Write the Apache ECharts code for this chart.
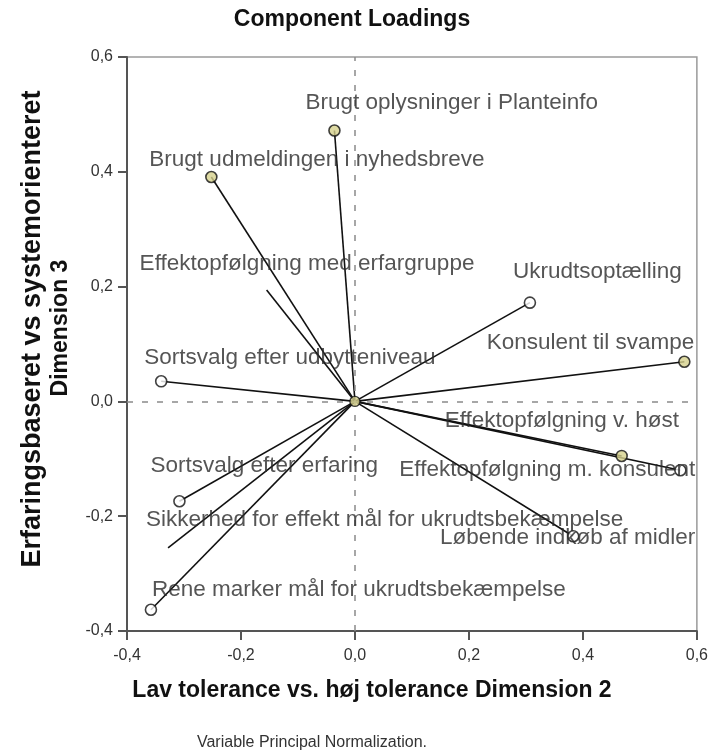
<!DOCTYPE html>
<html>
<head>
<meta charset="utf-8">
<script src="https://cdn.jsdelivr.net/npm/echarts@6/dist/echarts.min.js"></script>
<style>
  html, body { margin: 0; padding: 0; background: #ffffff; }
  #chart { width: 711px; height: 756px; }
</style>
</head>
<body>
<div id="chart"></div>
<script>
// Component loadings per variable (Dimension 2 on x, Dimension 3 on y)
const variables = [
  'Brugt oplysninger i Planteinfo',
  'Brugt udmeldingen i nyhedsbreve',
  'Effektopfølgning med erfargruppe',
  'Ukrudtsoptælling',
  'Konsulent til svampe',
  'Sortsvalg efter udbytteniveau',
  'Effektopfølgning v. høst',
  'Effektopfølgning m. konsulent',
  'Løbende indkøb af midler',
  'Sortsvalg efter erfaring',
  'Sikkerhed for effekt mål for ukrudtsbekæmpelse',
  'Rene marker mål for ukrudtsbekæmpelse'
];
const dim2 = [-0.036, -0.252, -0.155, 0.307, 0.578, -0.340, 0.468, 0.571, 0.383, -0.308, -0.328, -0.358];
const dim3 = [0.472, 0.391, 0.194, 0.172, 0.069, 0.035, -0.095, -0.120, -0.235, -0.174, -0.255, -0.363];

// Marker kind per variable: filled, open ring, or no marker at the vector tip
const markerKind = ['filled', 'filled', 'none', 'open', 'filled', 'open', 'filled', 'open', 'open', 'open', 'none', 'open'];

// Label anchoring per variable: [text align, dx, dy] in pixels from the vector tip
const labelPlacement = [
  ['left', -29, -28],
  ['left', -62, -17],
  ['left', -127, -26],
  ['left', -17, -31],
  ['right', 10, -19],
  ['left', -17, -24],
  ['left', -177, -35],
  ['right', 15, 0],
  ['right', 122, 2],
  ['left', -29, -35],
  ['left', -22, -28],
  ['left', 1, -20]
];

// Axis ranges and tick step
const xRange = [-0.4, 0.6];
const yRange = [-0.4, 0.6];
const tickStep = 0.2;

const chartTitle = 'Component Loadings';
const xTitle = 'Lav tolerance vs. høj tolerance Dimension 2';
const yTitleLines = ['Erfaringsbaseret vs systemorienteret', 'Dimension 3'];
const footnote = 'Variable Principal Normalization.';

const FONT = '"Liberation Sans", Arial, sans-serif';
const POINT_FILL = '#d6d18c';
const fmt = v => v.toFixed(1).replace('.', ',');

const chart = echarts.init(document.getElementById('chart'), null, { renderer: 'canvas' });

// One segment from the origin to each loading
const vectorSeries = variables.map((name, i) => ({
  type: 'line',
  name: name,
  data: [[0, 0], [dim2[i], dim3[i]]],
  symbol: 'none',
  silent: true,
  z: 3,
  lineStyle: { color: '#111111', width: 1.6 }
}));

const tipSeries = {
  type: 'scatter',
  z: 5,
  silent: true,
  data: variables.map((name, i) => {
    const kind = markerKind[i];
    const [align, dx, dy] = labelPlacement[i];
    return {
      name: name,
      value: [dim2[i], dim3[i]],
      symbolSize: kind === 'none' ? 1 : 11,
      itemStyle: {
        color: kind === 'filled' ? POINT_FILL : (kind === 'open' ? '#ffffff' : 'rgba(0,0,0,0)'),
        borderColor: kind === 'none' ? 'rgba(0,0,0,0)' : '#111111',
        borderWidth: kind === 'none' ? 0 : 1.6
      },
      label: {
        show: true,
        position: 'inside',
        formatter: name,
        align: align,
        verticalAlign: 'middle',
        offset: [dx, dy],
        color: '#2a2a2a',
        fontFamily: FONT,
        fontSize: 22.5,
        textBorderWidth: 0
      }
    };
  })
};

const referenceSeries = {
  type: 'line',
  data: [],
  silent: true,
  z: 1,
  markLine: {
    silent: true,
    symbol: 'none',
    animation: false,
    label: { show: false },
    lineStyle: { color: '#8a8a8a', width: 1.5, type: [6, 9] },
    data: [{ xAxis: 0 }, { yAxis: 0 }]
  }
};

const originSeries = {
  type: 'scatter',
  z: 6,
  silent: true,
  data: [[0, 0]],
  symbolSize: 10,
  itemStyle: { color: POINT_FILL, borderColor: '#111111', borderWidth: 1.4 }
};

chart.setOption({
  animation: false,
  backgroundColor: '#ffffff',
  grid: {
    left: 127, right: 12, top: 57, bottom: 125,
    show: true, borderColor: '#9a9a9a', borderWidth: 1.5, backgroundColor: 'transparent'
  },
  xAxis: {
    type: 'value',
    min: xRange[0], max: xRange[1], interval: tickStep,
    splitLine: { show: false },
    axisLine: { onZero: false, lineStyle: { color: '#555555', width: 2 } },
    axisTick: { show: true, length: 9, lineStyle: { color: '#555555', width: 2 } },
    axisLabel: { formatter: fmt, color: '#333333', fontFamily: FONT, fontSize: 16, margin: 17 }
  },
  yAxis: {
    type: 'value',
    min: yRange[0], max: yRange[1], interval: tickStep,
    splitLine: { show: false },
    axisLine: { onZero: false, lineStyle: { color: '#555555', width: 2 } },
    axisTick: { show: true, length: 9, lineStyle: { color: '#555555', width: 2 } },
    axisLabel: { formatter: fmt, color: '#333333', fontFamily: FONT, fontSize: 16, margin: 14 }
  },
  graphic: [
    {
      type: 'text', x: 352, y: 20,
      style: { text: chartTitle, font: 'bold 23px ' + FONT, fill: '#111111', align: 'center', verticalAlign: 'middle' }
    },
    {
      type: 'text', x: 372, y: 691,
      style: { text: xTitle, font: 'bold 23px ' + FONT, fill: '#111111', align: 'center', verticalAlign: 'middle' }
    },
    {
      type: 'text', x: 33, y: 329, rotation: Math.PI / 2,
      style: { text: yTitleLines[0], font: 'bold 27px ' + FONT, fill: '#111111', align: 'center', verticalAlign: 'middle' }
    },
    {
      type: 'text', x: 61, y: 328, rotation: Math.PI / 2,
      style: { text: yTitleLines[1], font: 'bold 23px ' + FONT, fill: '#111111', align: 'center', verticalAlign: 'middle' }
    },
    {
      type: 'text', x: 312, y: 743,
      style: { text: footnote, font: '16px ' + FONT, fill: '#333333', align: 'center', verticalAlign: 'middle' }
    }
  ],
  series: [referenceSeries, ...vectorSeries, tipSeries, originSeries]
});
</script>
</body>
</html>
